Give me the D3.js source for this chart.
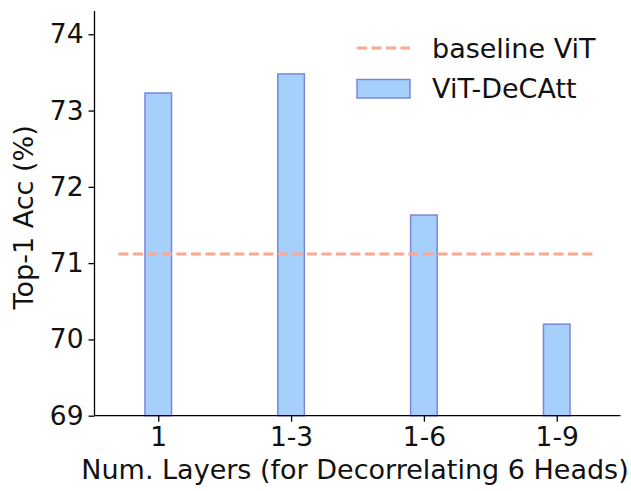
<!DOCTYPE html>
<html>
<head>
<meta charset="utf-8">
<script src="https://cdn.jsdelivr.net/npm/d3@7"></script>
<style>
  html, body { margin: 0; padding: 0; background: #fff; }
  svg { display: block; }
  text { font-family: "DejaVu Sans", sans-serif; fill: #111; }
</style>
</head>
<body>
<svg id="chart" width="631" height="491"></svg>
<script>
const categories = ["1", "1-3", "1-6", "1-9"];
const decattValues = [73.23, 73.48, 71.63, 70.20];
const baselineValue = 71.12;
const yTicks = [69, 70, 71, 72, 73, 74];
const seriesNames = ["baseline ViT", "ViT-DeCAtt"];

(function () {
const svg = d3.select("#chart");
const mLeft = 94.5, mRight = 620.5, mTop = 11, mBottom = 415.7;

const x = d3.scaleLinear().domain([-0.48, 3.48]).range([mLeft, mRight]);
const y = d3.scaleLinear().domain([69, 74.305]).range([mBottom, mTop]);
const barW = x(0.2) - x(0);

// bars
svg.append("g").selectAll("rect").data(decattValues).join("rect")
  .attr("x", (d, i) => x(i) - barW / 2)
  .attr("y", d => y(d))
  .attr("width", barW)
  .attr("height", d => y(69) - y(d))
  .attr("fill", "#a6d0fc")
  .attr("stroke", "#7c86d8")
  .attr("stroke-width", 1.5);

// baseline
svg.append("line")
  .attr("x1", x(-0.3)).attr("x2", x(3.3))
  .attr("y1", y(baselineValue)).attr("y2", y(baselineValue))
  .attr("stroke", "#fca792").attr("stroke-width", 3)
  .attr("stroke-dasharray", "10,4.5");

// axes
const yAxis = d3.axisLeft(y).tickValues(yTicks).tickFormat(d3.format("d")).tickSize(6).tickPadding(5);
const gy = svg.append("g").attr("transform", `translate(${mLeft},0)`).call(yAxis);
const xAxis = d3.axisBottom(x).tickValues(d3.range(categories.length)).tickFormat(i => categories[i]).tickSize(6).tickPadding(5);
const gx = svg.append("g").attr("transform", `translate(0,${mBottom})`).call(xAxis);
[gx, gy].forEach(g => {
  g.select(".domain").attr("stroke", "#000").attr("stroke-width", 1.3);
  g.selectAll(".tick line").attr("stroke", "#000").attr("stroke-width", 1.3);
  g.selectAll(".tick text").attr("font-family", "DejaVu Sans").attr("font-size", 26.5).attr("fill", "#111");
});
gy.select(".domain").attr("d", `M0,${mBottom}V${mTop}`);
gx.select(".domain").attr("d", `M${mLeft},0H${mRight}`);

// axis labels
svg.append("text")
  .attr("x", 355).attr("y", 479)
  .attr("text-anchor", "middle").attr("font-size", 27)
  .text("Num. Layers (for Decorrelating 6 Heads)");
svg.append("text")
  .attr("transform", `translate(33,${(mTop + mBottom) / 2 + 4}) rotate(-90)`)
  .attr("text-anchor", "middle").attr("font-size", 27)
  .text("Top-1 Acc (%)");

// legend
const lg = svg.append("g");
lg.append("line").attr("x1", 357).attr("x2", 410).attr("y1", 48).attr("y2", 48)
  .attr("stroke", "#fca792").attr("stroke-width", 3).attr("stroke-dasharray", "10,4.5");
lg.append("rect").attr("x", 357).attr("y", 79.5).attr("width", 53).attr("height", 18.5)
  .attr("fill", "#a6d0fc").attr("stroke", "#7c86d8").attr("stroke-width", 1.5);
lg.selectAll("text.lt").data(seriesNames).join("text")
  .attr("class", "lt")
  .attr("x", 432).attr("y", (d, i) => 57.5 + i * 40)
  .attr("font-size", 27)
  .text(d => d);
})();
</script>
</body>
</html>
